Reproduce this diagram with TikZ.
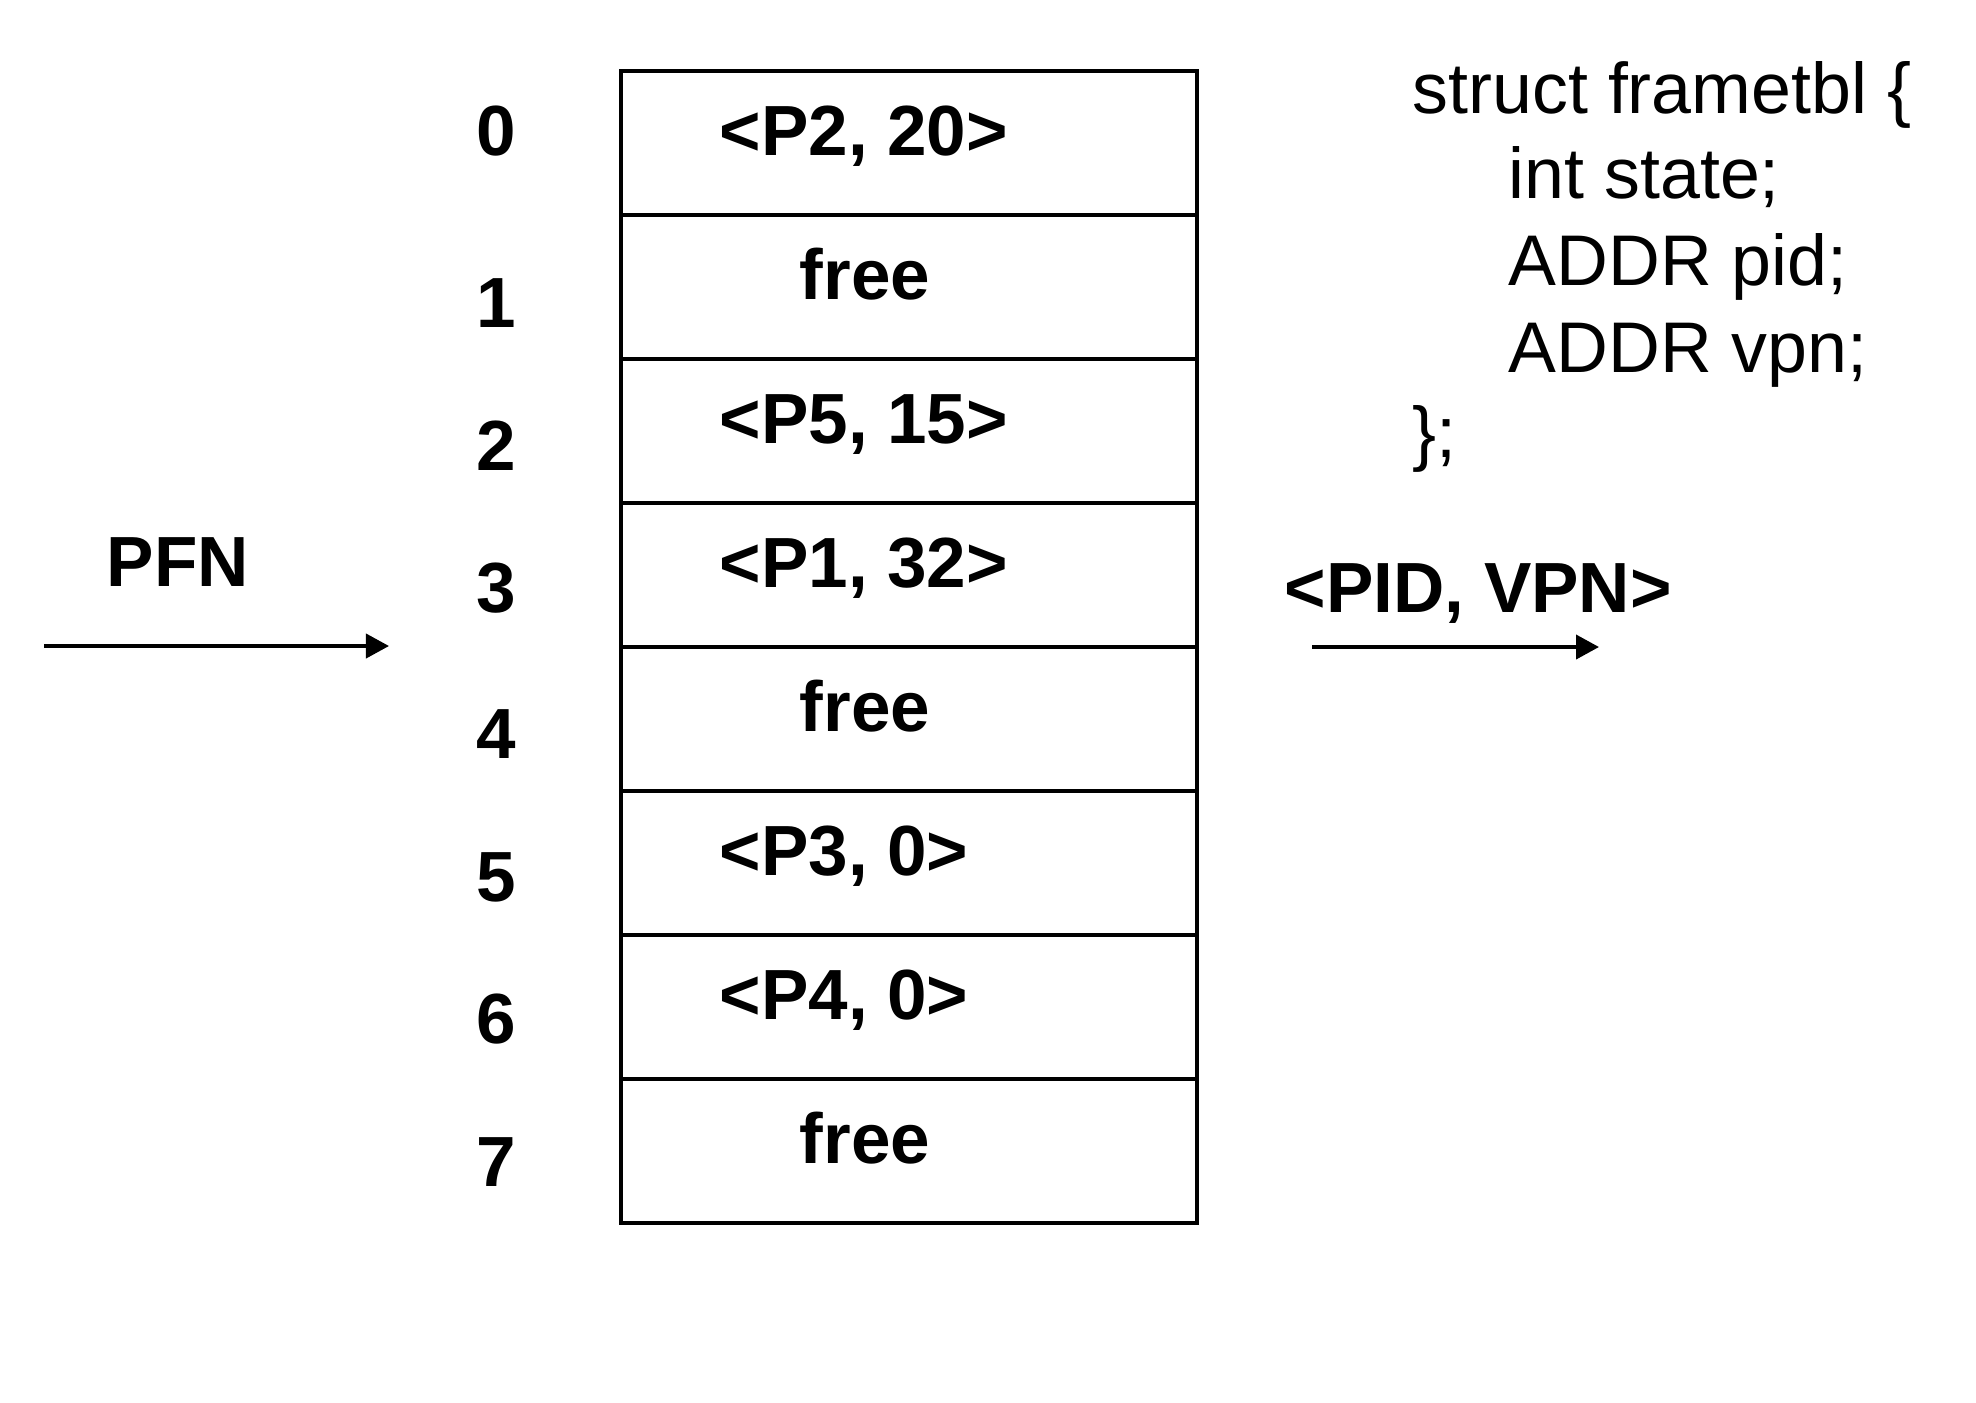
\documentclass[tikz,border=0pt]{standalone}
\usepackage{fontspec}
\setmainfont{Liberation Sans}
\usepackage{tikz}
\usetikzlibrary{arrows.meta}

\begin{document}
\begin{tikzpicture}[x=0.01cm, y=-0.01cm,
    frameslot/.style={draw=black, line width=1.05pt, minimum width=5.76cm,
                      minimum height=1.44cm, inner sep=0pt, anchor=north west},
    boldtext/.style={font=\fontsize{20.2pt}{24pt}\selectfont\bfseries, inner sep=0pt},
    codetext/.style={font=\fontsize{20.4pt}{24pt}\selectfont, inner sep=0pt, anchor=base west},
    pointer/.style={line width=1.1pt, -{Triangle[length=0.23cm, width=0.24cm]}}]
  \useasboundingbox (0,0) rectangle (1976,1402);

  % frame table, one slot per physical frame
  \foreach \i/\owner/\ox/\dy in {0/{<P2, 20>}/719/86, 1/free/799/114, 2/{<P5, 15>}/719/113,
      3/{<P1, 32>}/719/111, 4/free/799/113, 5/{<P3, 0>}/719/112,
      6/{<P4, 0>}/719/110, 7/free/799/109} {
    \node[frameslot] (frame\i) at (619, 69+144*\i) {};
    \node[boldtext, anchor=base west] (owner\i) at (\ox, 69+144*\i+86) {\owner};
    \node[boldtext, anchor=base] (idx\i) at (496, 69+144*\i+\dy) {\i};
  }

  % lookup by PFN
  \node[boldtext, anchor=base west] (pfnLabel) at (106, 586) {PFN};
  \coordinate (pfnIn) at (44, 646);
  \coordinate (pfnOut) at (389, 646);
  \draw[pointer] (pfnIn) -- (pfnOut);

  \node[boldtext, anchor=base west] (pairLabel) at (1284, 612) {<PID, VPN>};
  \coordinate (pairIn) at (1312, 647);
  \coordinate (pairOut) at (1599, 647);
  \draw[pointer] (pairIn) -- (pairOut);

  % entry layout
  \node[codetext] (code0) at (1412, 113) {struct frametbl \{};
  \node[codetext] (code1) at (1508, 198) {int state;};
  \node[codetext] (code2) at (1508, 285) {ADDR pid;};
  \node[codetext] (code3) at (1508, 372) {ADDR vpn;};
  \node[codetext] (code4) at (1412, 457) {\};};
\end{tikzpicture}
\end{document}
